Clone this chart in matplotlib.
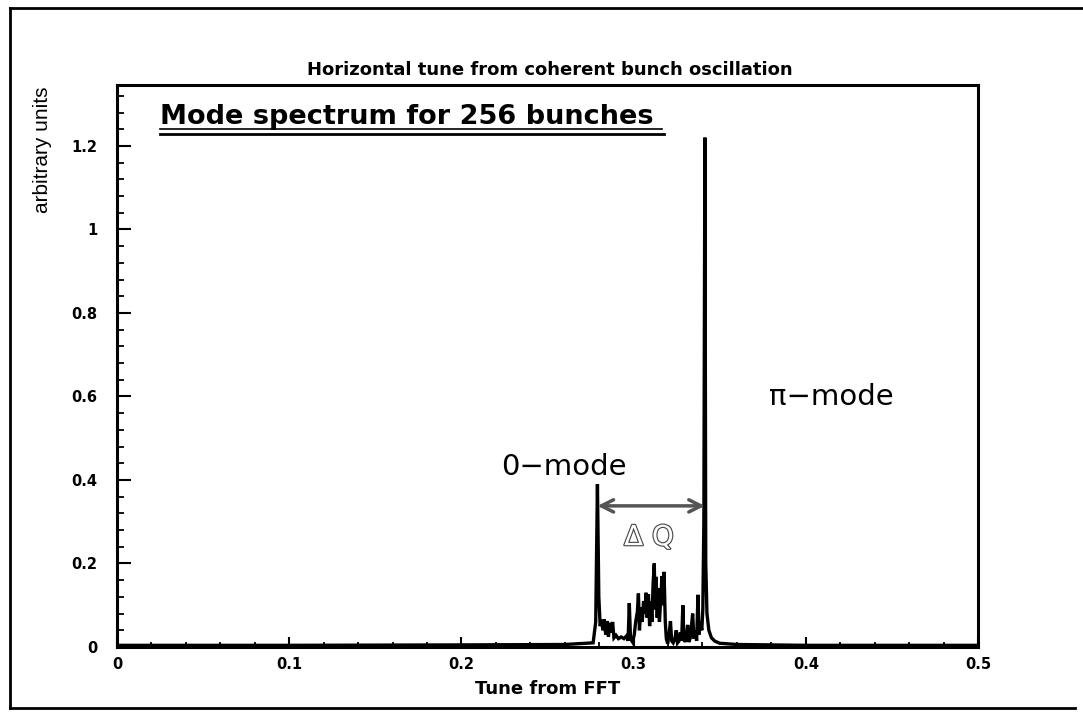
import matplotlib
matplotlib.use("Agg")
import matplotlib.pyplot as plt
import matplotlib.patheffects as pe
from matplotlib.lines import Line2D

# spectrum (tune, amplitude)
tune = [0.000, 0.100, 0.200, 0.260, 0.2765, 0.2780, 0.2790, 0.2798, 0.2806,
        0.2814, 0.2822, 0.2830, 0.2838, 0.2846, 0.2854, 0.2862, 0.2870,
        0.2878, 0.2886, 0.2898, 0.2912, 0.2928, 0.2944, 0.2958, 0.2968,
        0.2975, 0.2982, 0.2994, 0.3004, 0.3012, 0.3022, 0.3028, 0.3034,
        0.3042, 0.3050, 0.3058, 0.3066, 0.3072, 0.3079, 0.3086, 0.3093,
        0.3100, 0.3106, 0.3113, 0.3120, 0.3125, 0.3131, 0.3137, 0.3144,
        0.3150, 0.3158, 0.3165, 0.3171, 0.3177, 0.3184, 0.3190, 0.3198,
        0.3206, 0.3214, 0.3221, 0.3230, 0.3240, 0.3248, 0.3255, 0.3264,
        0.3272, 0.3279, 0.3286, 0.3292, 0.3300, 0.3308, 0.3314, 0.3320,
        0.3328, 0.3336, 0.3343, 0.3350, 0.3358, 0.3366, 0.3374, 0.3380,
        0.3388, 0.3396, 0.3402, 0.3408, 0.3414, 0.3419, 0.3426, 0.3437,
        0.3452, 0.3472, 0.3500, 0.3600, 0.4000, 0.5000]
amplitude = [0.004, 0.004, 0.005, 0.006, 0.010, 0.060, 0.390, 0.120, 0.050,
             0.065, 0.040, 0.066, 0.030, 0.062, 0.025, 0.058, 0.035,
             0.060, 0.022, 0.028, 0.020, 0.024, 0.020, 0.026, 0.015,
             0.105, 0.020, 0.012, 0.030, 0.060, 0.085, 0.128, 0.040,
             0.095, 0.060, 0.110, 0.080, 0.130, 0.070, 0.126, 0.050,
             0.110, 0.060, 0.150, 0.200, 0.090, 0.168, 0.070, 0.140,
             0.060, 0.120, 0.170, 0.100, 0.180, 0.060, 0.020, 0.008,
             0.030, 0.062, 0.015, 0.010, 0.020, 0.040, 0.010, 0.015,
             0.035, 0.015, 0.100, 0.020, 0.012, 0.030, 0.053, 0.012,
             0.020, 0.050, 0.080, 0.020, 0.040, 0.015, 0.125, 0.030,
             0.060, 0.040, 0.090, 0.300, 1.220, 0.200, 0.080, 0.040,
             0.022, 0.014, 0.009, 0.006, 0.004, 0.004]

zero_mode = (0.2790, 0.390)
pi_mode = (0.3414, 1.220)

x_ticks = [0, 0.1, 0.2, 0.3, 0.4, 0.5]
x_ticklabels = ["0", "0.1", "0.2", "0.3", "0.4", "0.5"]
y_ticks = [0, 0.2, 0.4, 0.6, 0.8, 1.0, 1.2]
y_ticklabels = ["0", "0.2", "0.4", "0.6", "0.8", "1", "1.2"]

W, H = 1083, 725


def px(x, y):
    return x / W, 1 - y / H


fig = plt.figure(figsize=(W / 100, H / 100), dpi=100)
l, b = px(117, 647)
r, t = px(978, 85)
ax = fig.add_axes([l, b, r - l, t - b])

ax.plot(tune, amplitude, color="black", lw=2.4, solid_joinstyle="miter")
ax.set_xlim(0, 0.5)
ax.set_ylim(0, 1.346)

ax.set_xticks(x_ticks)
ax.set_xticklabels(x_ticklabels, fontsize=10.5, fontweight="bold")
ax.set_yticks(y_ticks)
ax.set_yticklabels(y_ticklabels, fontsize=10.5, fontweight="bold")
ax.set_xticks([i * 0.02 for i in range(26)], minor=True)
ax.set_yticks([i * 0.04 for i in range(34)], minor=True)
ax.tick_params(axis="x", which="major", direction="in", length=7, width=1.5, pad=7)
ax.tick_params(axis="x", which="minor", direction="in", length=3.5, width=1.3)
ax.tick_params(axis="y", which="major", direction="in", length=10, width=1.5, pad=14)
ax.tick_params(axis="y", which="minor", direction="in", length=5, width=1.3)
for s in ax.spines.values():
    s.set_linewidth(2.2)

ax.set_xlabel("Tune from FFT", fontsize=13, fontweight="bold", labelpad=6)
fig.text(*px(550, 70), "Horizontal tune from coherent bunch oscillation",
         fontsize=13, fontweight="bold", ha="center", va="center")
fig.text(*px(42, 150), "arbitrary units", rotation=90, fontsize=15,
         family="Liberation Sans", ha="center", va="center")

# annotations
fig.text(*px(160, 117), "Mode spectrum for 256 bunches", fontsize=19.5,
         fontweight="bold", ha="left", va="center")
fig.add_artist(Line2D([160 / W, 662 / W], [1 - 129 / H, 1 - 129 / H],
                      color="black", lw=1.2))
fig.add_artist(Line2D([160 / W, 664 / W], [1 - 134 / H, 1 - 134 / H],
                      color="black", lw=2.0))

ax.text(0.2596, 0.431, "0\u2212mode", fontsize=21, ha="center", va="center")
ax.text(0.415, 0.599, "\u03c0\u2212mode", fontsize=21, ha="center", va="center")
ax.annotate("", xy=(zero_mode[0], 0.338), xytext=(pi_mode[0], 0.338),
            arrowprops=dict(arrowstyle="<->", color="#555555", lw=2.5,
                            mutation_scale=22, shrinkA=0, shrinkB=0))
ax.text(0.3089, 0.263, "\u0394 Q", fontsize=20, ha="center", va="center",
        color="white",
        path_effects=[pe.Stroke(linewidth=1.6, foreground="#444444"), pe.Normal()])

# outer frame of the scanned page
frame = dict(color="black", lw=2.0)
fig.add_artist(Line2D([10 / W, 10 / W], [1 - 8 / H, 1 - 708 / H], **frame))
fig.add_artist(Line2D([10 / W, 1.0], [1 - 8 / H, 1 - 8 / H], **frame))
fig.add_artist(Line2D([10 / W, 1075 / W], [1 - 708 / H, 1 - 708 / H], **frame))

fig.savefig("out.png", dpi=100)
